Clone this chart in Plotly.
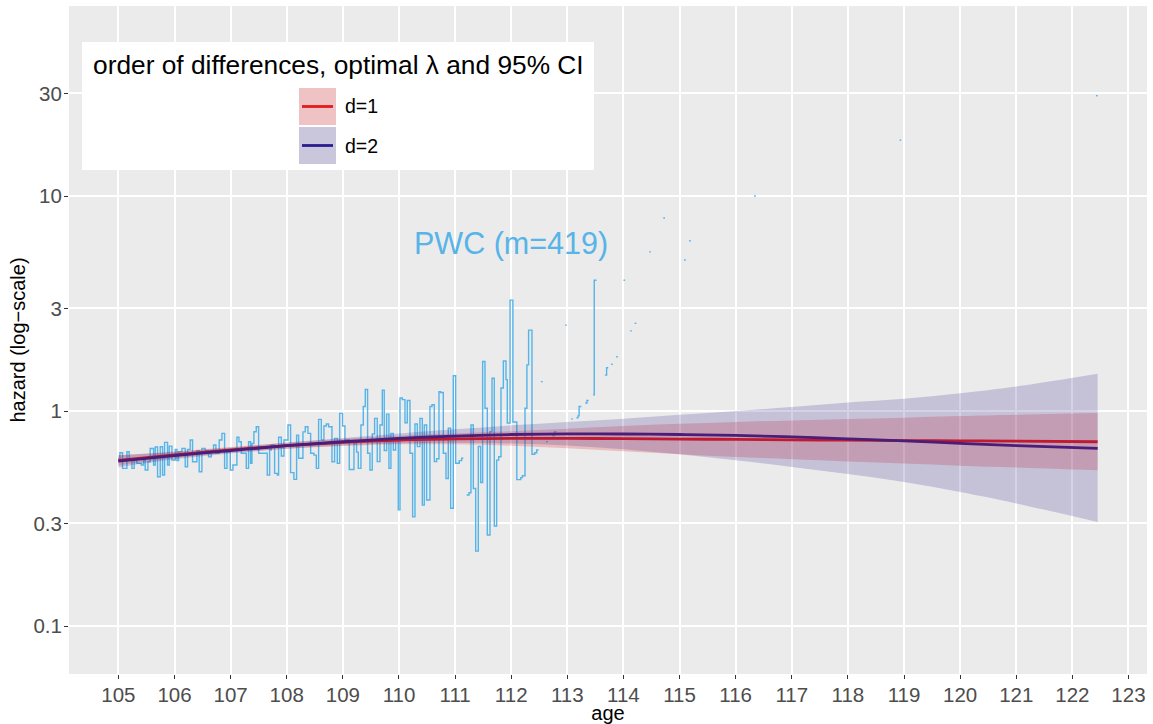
import plotly.graph_objects as go

# ---------------- data ----------------
# piecewise-constant hazard (PWC): interval start ages and hazard values (0 = no deaths -> not drawn)
pwc_start = [
    105.000, 105.027, 105.074, 105.152, 105.193, 105.241, 105.282, 105.330, 105.407, 105.449,
    105.478, 105.526, 105.567, 105.627, 105.657, 105.698, 105.746, 105.787, 105.823, 105.876,
    105.906, 105.954, 106.013, 106.043, 106.073, 106.132, 106.191, 106.233, 106.280, 106.322,
    106.399, 106.440, 106.488, 106.547, 106.607, 106.655, 106.696, 106.738, 106.797, 106.845,
    106.893, 106.935, 106.994, 107.041, 107.112, 107.148, 107.190, 107.279, 107.320, 107.356,
    107.380, 107.415, 107.457, 107.499, 107.653, 107.695, 107.724, 107.784, 107.831, 107.855,
    107.903, 107.950, 108.022, 108.069, 108.128, 108.176, 108.212, 108.289, 108.330, 108.378,
    108.426, 108.485, 108.527, 108.568, 108.616, 108.663, 108.705, 108.746, 108.806, 108.853,
    108.901, 108.943, 108.996, 109.037, 109.114, 109.198, 109.245, 109.275, 109.322, 109.364,
    109.400, 109.441, 109.483, 109.524, 109.566, 109.613, 109.661, 109.703, 109.738, 109.780,
    109.821, 109.857, 109.899, 109.940, 109.988, 110.018, 110.059, 110.107, 110.148, 110.196,
    110.243, 110.285, 110.327, 110.374, 110.416, 110.451, 110.493, 110.552, 110.588, 110.630,
    110.671, 110.713, 110.742, 110.790, 110.838, 110.879, 110.921, 110.968, 111.010, 111.075,
    111.117, 111.147, 111.206, 111.248, 111.283, 111.325, 111.367, 111.414, 111.456, 111.491,
    111.533, 111.574, 111.622, 111.658, 111.699, 111.741, 111.777, 111.818, 111.860, 111.907,
    111.930, 111.980, 112.030, 112.100, 112.170, 112.200, 112.246, 112.280, 112.310, 112.370,
    112.420, 112.455, 112.490, 112.530, 112.560, 112.620, 112.650, 112.730, 112.770, 112.810,
    112.960, 112.990, 113.070, 113.100, 113.160, 113.190, 113.210, 113.250, 113.320, 113.350,
    113.380, 113.460, 113.480, 113.520, 113.670, 113.700, 113.730, 113.780, 113.810, 113.870,
    113.900, 114.000, 114.030, 114.120, 114.150, 114.200, 114.230, 114.460, 114.490, 114.710,
    114.740, 115.080, 115.110, 115.170, 115.200, 116.330, 116.360, 118.920, 118.950, 122.420,
]
pwc_hazard = [
    0.598, 0.640, 0.541, 0.647, 0.592, 0.541, 0.592, 0.571, 0.561, 0.592,
    0.532, 0.581, 0.670, 0.561, 0.680, 0.495, 0.682, 0.504, 0.715, 0.561,
    0.687, 0.592, 0.663, 0.588, 0.647, 0.670, 0.551, 0.663, 0.733, 0.581,
    0.654, 0.522, 0.670, 0.654, 0.613, 0.654, 0.695, 0.636, 0.733, 0.787,
    0.541, 0.647, 0.532, 0.561, 0.755, 0.720, 0.636, 0.541, 0.720, 0.571,
    0.707, 0.801, 0.845, 0.636, 0.504, 0.659, 0.695, 0.513, 0.504, 0.755,
    0.618, 0.733, 0.861, 0.517, 0.481, 0.773, 0.603, 0.800, 0.845, 0.787,
    0.636, 0.624, 0.541, 0.915, 0.733, 0.852, 0.870, 0.845, 0.581, 0.746,
    0.571, 0.976, 0.852, 0.733, 0.535, 0.707, 0.644, 0.541, 0.861, 1.050,
    1.260, 0.636, 0.532, 0.782, 0.925, 0.582, 0.861, 1.250, 0.655, 0.968,
    0.541, 0.787, 0.659, 0.746, 0.347, 1.150, 1.130, 0.883, 1.120, 0.636,
    0.322, 0.871, 0.683, 0.925, 0.365, 0.861, 0.386, 1.050, 1.070, 0.582,
    0.600, 1.230, 1.220, 0.636, 0.486, 0.832, 0.353, 1.460, 0.572, 0.588,
    0.603, 0.0, 0.407, 0.417, 0.861, 0.436, 0.223, 0.684, 0.465, 1.700,
    1.030, 0.265, 0.801, 1.420, 0.292, 0.591, 0.613, 1.280, 1.710, 1.400,
    0.880, 3.280, 0.890, 0.480, 0.490, 0.500, 1.030, 1.640, 2.380, 0.630,
    0.640, 0.660, 0.0, 1.370, 0.0, 0.720, 0.0, 0.770, 0.800, 0.0,
    2.510, 0.0, 0.920, 0.0, 0.930, 0.950, 1.050, 0.0, 1.090, 1.120,
    0.0, 1.190, 4.060, 0.0, 1.470, 1.590, 0.0, 1.650, 0.0, 1.790,
    0.0, 4.060, 0.0, 2.360, 0.0, 2.560, 0.0, 5.500, 0.0, 7.900,
    0.0, 5.040, 0.0, 6.200, 0.0, 10.00, 0.0, 18.20, 0.0, 29.30,
]
pwc_end = 122.45

# P-spline fits (d = order of differences) with 95% CI
fit_age = [105, 106, 107, 108, 109, 110, 111, 112, 113, 114, 115, 116, 117, 118, 119, 120, 121, 122.45]
d1_fit = [0.590, 0.625, 0.660, 0.690, 0.715, 0.733, 0.742, 0.746, 0.746, 0.744, 0.741, 0.738, 0.735, 0.732, 0.729, 0.727, 0.724, 0.720]
d1_lo = [0.560, 0.603, 0.640, 0.668, 0.688, 0.700, 0.700, 0.690, 0.672, 0.650, 0.630, 0.612, 0.597, 0.583, 0.570, 0.557, 0.546, 0.530]
d1_hi = [0.622, 0.648, 0.681, 0.712, 0.743, 0.768, 0.787, 0.806, 0.828, 0.852, 0.872, 0.890, 0.905, 0.918, 0.932, 0.948, 0.962, 0.980]
d2_fit = [0.585, 0.620, 0.655, 0.690, 0.720, 0.746, 0.765, 0.778, 0.783, 0.782, 0.778, 0.770, 0.758, 0.743, 0.726, 0.708, 0.690, 0.670]
d2_lo = [0.548, 0.597, 0.635, 0.667, 0.692, 0.708, 0.713, 0.707, 0.692, 0.665, 0.630, 0.590, 0.550, 0.510, 0.468, 0.420, 0.372, 0.305]
d2_hi = [0.624, 0.645, 0.676, 0.714, 0.750, 0.787, 0.822, 0.858, 0.890, 0.922, 0.960, 1.000, 1.045, 1.095, 1.140, 1.210, 1.300, 1.490]

series_names = ["d=1", "d=2"]
line_colors = ["#E41A1C", "#2B1D8E"]
ribbon_colors = ["rgba(228,26,28,0.22)", "rgba(43,29,142,0.20)"]

x_ticks = list(range(105, 124))
y_ticks = [0.1, 0.3, 1, 3, 10, 30]
y_tick_text = ["0.1", "0.3", "1", "3", "10", "30"]

legend_title = "order of differences, optimal λ and 95% CI"
pwc_label = "PWC (m=419)"

FONT = "Liberation Sans, Arial, Helvetica, sans-serif"

# ---------------- figure ----------------
fig = go.Figure()

# PWC step function
xs, ys = [], []
for i, h in enumerate(pwc_hazard):
    s = pwc_start[i]
    e = pwc_start[i + 1] if i + 1 < len(pwc_start) else pwc_end
    if h > 0:
        xs += [s, e]
        ys += [h, h]
    else:
        xs.append(s)
        ys.append(None)
fig.add_trace(go.Scatter(x=xs, y=ys, mode="lines", connectgaps=False,
                         line=dict(color="#56B4E9", width=1.4),
                         showlegend=False, hoverinfo="skip"))

fits = [(d1_fit, d1_lo, d1_hi), (d2_fit, d2_lo, d2_hi)]
for (fit, lo, hi), col in zip(fits, line_colors):
    fig.add_trace(go.Scatter(x=fit_age, y=fit, mode="lines",
                             line=dict(color=col, width=2.8, shape="spline"),
                             showlegend=False))
for (fit, lo, hi), fc in zip(fits, ribbon_colors):
    fig.add_trace(go.Scatter(x=fit_age, y=lo, mode="lines",
                             line=dict(width=0, shape="spline"),
                             showlegend=False, hoverinfo="skip"))
    fig.add_trace(go.Scatter(x=fit_age, y=hi, mode="lines", fill="tonexty", fillcolor=fc,
                             line=dict(width=0, shape="spline"),
                             showlegend=False, hoverinfo="skip"))

# PWC label
fig.add_annotation(x=112, y=0.781, yref="y", xref="x", text=pwc_label, showarrow=False,
                   xanchor="center", yanchor="middle",
                   font=dict(family=FONT, size=30.5, color="#56B4E9"))

# ---- manual legend (paper coords: plot area px 69..1147 x, 6..674 y) ----
L, T, W, H = 69, 6, 1078, 668
def px(x): return (x - L) / W
def py(y): return (T + H - y) / H

fig.add_shape(type="rect", xref="paper", yref="paper", x0=px(82), x1=px(594), y0=py(170), y1=py(42),
              fillcolor="white", line=dict(width=0), layer="above")
fig.add_annotation(xref="paper", yref="paper", x=px(338), y=py(65), text=legend_title, showarrow=False,
                   xanchor="center", yanchor="middle",
                   font=dict(family=FONT, size=26.3, color="black"))
key_tops = [88, 127]
for i, name in enumerate(series_names):
    t = key_tops[i]
    fig.add_shape(type="rect", xref="paper", yref="paper", x0=px(299), x1=px(336), y0=py(t + 37), y1=py(t),
                  fillcolor="#F2F2F2", line=dict(width=0), layer="above")
    fig.add_shape(type="rect", xref="paper", yref="paper", x0=px(299), x1=px(336), y0=py(t + 37), y1=py(t),
                  fillcolor=ribbon_colors[i], line=dict(width=0), layer="above")
    fig.add_shape(type="line", xref="paper", yref="paper", x0=px(302), x1=px(333), y0=py(t + 18.5), y1=py(t + 18.5),
                  line=dict(color=line_colors[i], width=2.8), layer="above")
    fig.add_annotation(xref="paper", yref="paper", x=px(343), y=py(t + 18.5), text=name, showarrow=False,
                       xanchor="left", yanchor="middle",
                       font=dict(family=FONT, size=19.5, color="black"))

fig.update_layout(
    width=1153, height=724,
    margin=dict(l=69, r=6, t=6, b=50, autoexpand=False),
    paper_bgcolor="white", plot_bgcolor="#EBEBEB",
    font=dict(family=FONT),
    showlegend=False,
)
fig.update_xaxes(range=[104.12, 123.33], tickvals=x_ticks, ticktext=[str(v) for v in x_ticks],
                 automargin=False, ticklabelstandoff=-2,
                 showgrid=True, gridcolor="white", gridwidth=1.6, zeroline=False,
                 ticks="outside", ticklen=4, tickcolor="#333333", tickwidth=1,
                 tickfont=dict(family=FONT, size=20.5, color="#4D4D4D"),
                 title=dict(text="age", font=dict(family=FONT, size=20, color="black"), standoff=4))
fig.update_yaxes(type="log", range=[-1.223, 1.884], tickvals=y_ticks, ticktext=y_tick_text,
                 automargin=False, ticklabelstandoff=-2,
                 showgrid=True, gridcolor="white", gridwidth=1.6, zeroline=False,
                 ticks="outside", ticklen=4, tickcolor="#333333", tickwidth=1,
                 tickfont=dict(family=FONT, size=20.5, color="#4D4D4D"),
                 title=dict(text="hazard (log−scale)", font=dict(family=FONT, size=20, color="black"), standoff=2))

fig.write_html("out.html", config={"displayModeBar": False},
               post_script="document.body.style.margin='0px';document.body.style.overflow='hidden';")
